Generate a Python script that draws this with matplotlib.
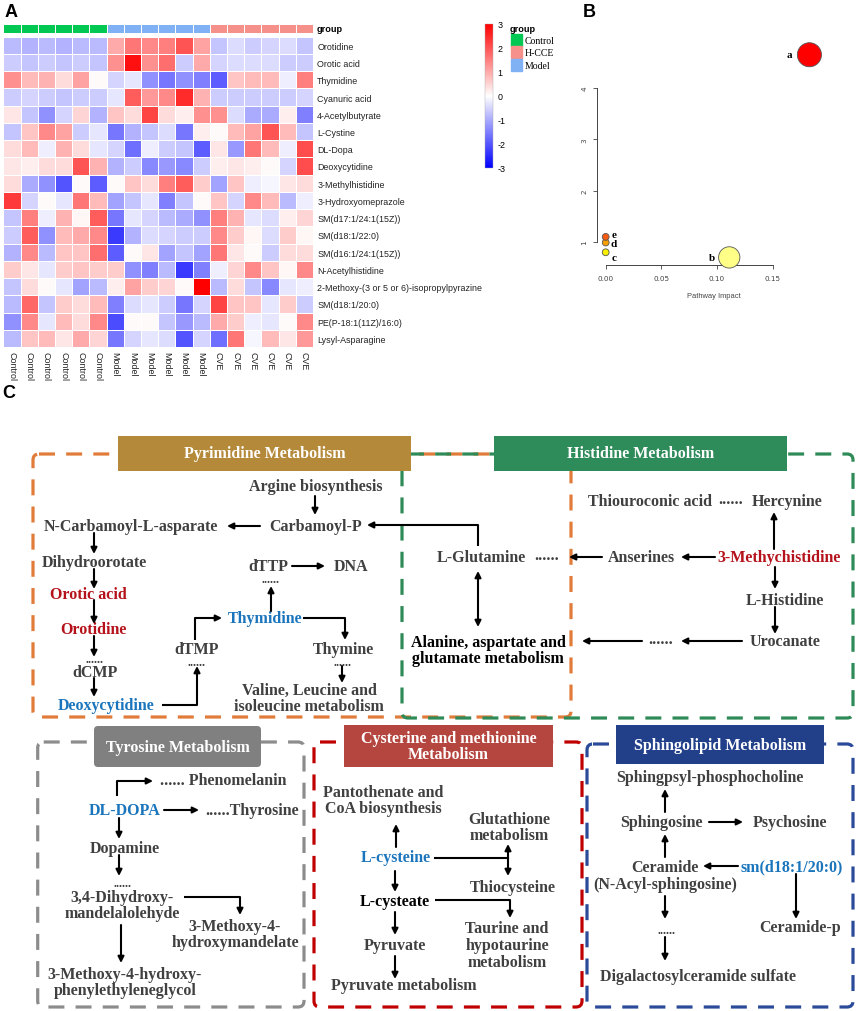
import numpy as np
import matplotlib
matplotlib.use("Agg")
import matplotlib.pyplot as plt
from matplotlib.colors import LinearSegmentedColormap, ListedColormap
from matplotlib.patches import FancyBboxPatch, Rectangle

plt.rcParams["axes.unicode_minus"] = False

# ---- panel A data: z-scores ----
metabolites = ["Orotidine", "Orotic acid", "Thymidine", "Cyanuric acid", "4-Acetylbutyrate",
               "L-Cystine", "DL-Dopa", "Deoxycytidine", "3-Methylhistidine",
               "3-Hydroxyomeprazole", "SM(d17:1/24:1(15Z))", "SM(d18:1/22:0)",
               "SM(d16:1/24:1(15Z))", "N-Acetylhistidine",
               "2-Methoxy-(3 or 5 or 6)-isopropylpyrazine", "SM(d18:1/20:0)",
               "PE(P-18:1(11Z)/16:0)", "Lysyl-Asparagine"]
samples = ["Control"] * 6 + ["Model"] * 6 + ["CVE"] * 6
sample_group = [0] * 6 + [1] * 6 + [2] * 6   # 0 Control, 1 Model, 2 H-CCE
heat_values = [
    [-0.8, -0.9, -0.8, -0.9, -0.8, -0.8, 1.0, 1.6, 1.4, 1.5, 2.0, 1.1, -0.7, -0.4, -0.6, -0.5, -0.4, -0.7],
    [-0.6, -0.7, -0.6, -0.7, -0.6, -0.7, 1.3, 2.8, 1.3, 1.7, -0.6, 1.0, -0.5, -0.4, -0.4, -0.4, -0.6, -0.6],
    [1.3, 0.8, 0.9, 0.4, 1.1, 0.05, -0.5, -0.3, -1.3, -1.6, -1.3, -1.5, -1.9, 0.7, 0.8, 0.8, -0.2, 1.5],
    [-0.6, -0.5, -0.6, -0.7, -0.6, -0.6, -0.3, 1.9, 1.2, 1.4, 2.5, 0.9, -0.6, -0.6, -0.6, -0.6, -0.6, -0.5],
    [0.3, -0.7, -1.3, -0.5, 0.5, -0.9, 0.7, 0.4, 2.2, 0.4, 0.2, 1.3, 1.3, -0.4, -1.0, -1.0, 0.2, -1.5],
    [-0.7, 0.7, 1.4, 1.1, -0.6, -0.3, -1.6, -0.9, -0.7, -0.4, -1.6, 0.2, 0.05, 0.8, 1.1, 2.0, 0.8, -0.7],
    [0.4, 0.8, -0.2, 0.9, 0.4, -0.3, -0.5, -1.7, -0.2, -0.6, -0.7, -1.9, 0.3, -1.2, 1.6, 0.8, -0.2, 2.1],
    [0.3, 0.2, 0.4, 0.4, 2.0, 0.9, -0.9, -0.6, -1.4, -1.2, -1.4, -0.6, 0.2, 0.3, 0.2, 0.05, -0.5, 2.1],
    [0.4, -1.0, -1.3, -2.0, 0.05, -1.9, 0.05, 0.7, 0.4, 1.5, 1.9, 0.6, -1.1, 0.7, -0.2, -0.1, 0.3, 0.4],
    [2.3, -0.5, 0.05, -0.3, 1.6, 0.8, -1.1, -0.7, -0.3, -1.5, -0.7, 0.05, 0.7, -0.5, 1.4, 0.8, -0.8, -0.2],
    [-0.7, 1.5, -0.2, 0.9, 0.1, 1.9, -1.6, -0.3, -0.5, -0.8, -1.0, -1.3, 1.5, 0.9, -0.3, -0.4, 0.2, 0.5],
    [-0.6, 1.9, -1.3, 0.8, 1.0, 1.4, -2.3, -0.9, -0.4, -0.5, -0.6, -0.6, 1.4, 0.6, 0.1, -0.4, 0.6, 0.1],
    [-0.9, 1.4, -0.8, 0.7, 0.7, 1.7, -1.9, 0.05, 0.3, -1.1, -0.7, -1.1, 1.6, 0.3, 0.05, -0.6, 0.4, 0.4],
    [0.6, 0.3, -0.3, 0.6, 0.7, 0.6, 0.6, -1.3, -1.5, -0.8, -2.3, -1.5, -0.2, 0.5, 1.4, 0.7, 0.1, 1.4],
    [-0.7, 0.4, 0.05, -0.3, -1.1, -0.8, 0.2, 1.1, 0.6, 0.5, 0.05, 3.0, -0.8, 0.4, -0.7, -1.4, -0.3, -0.2],
    [-0.8, 1.8, -0.7, 0.6, 0.4, 0.8, -1.5, -0.4, -0.3, -0.6, -1.6, -0.5, 2.2, 0.7, 0.7, -0.3, 0.6, -0.6],
    [-1.3, 1.4, -0.3, 0.8, 0.4, 1.4, -2.1, 0.05, 0.05, -0.7, -1.2, -0.8, 1.0, 0.6, -0.2, -0.3, 0.05, 1.4],
    [-0.8, 0.7, 0.8, 0.3, 1.0, 0.5, -1.6, -0.5, -0.3, -0.4, -2.0, -0.5, -1.7, 1.6, -0.1, 0.8, 0.3, 1.2],
]
group_names = ["Control", "H-CCE", "Model"]

# ---- panel B data: pathway impact vs -log10(p) ----
path_tags = ["a", "b", "c", "d", "e"]
path_impact = [0.183, 0.111, 0.0, 0.0, 0.0]
path_logp = [4.65, 0.70, 0.80, 0.99, 1.10]
path_size = [300, 235, 24, 24, 24]
path_color = ["#ff0000", "#ffff88", "#f8f000", "#f8a000", "#f45a10"]

W, H = 858, 1012
fig = plt.figure(figsize=(W / 100, H / 100), dpi=100)
SANS = "Liberation Sans"
SERIF = "Liberation Serif"


def px_axes(x0, y0, x1, y1):
    return fig.add_axes([x0 / W, 1 - y1 / H, (x1 - x0) / W, (y1 - y0) / H])


# ---------------- A: heatmap ----------------
cmap = LinearSegmentedColormap.from_list("bwr3", ["#0000ff", "#ffffff", "#ff0000"])
ax = px_axes(3.3, 37.7, 313, 348)
mesh = ax.pcolormesh(np.array(heat_values), cmap=cmap, vmin=-3, vmax=3,
                     edgecolors="white", linewidth=0.6)
ax.set_xlim(0, 18)
ax.set_ylim(18, 0)
ax.yaxis.tick_right()
ax.set_yticks(np.arange(18) + 0.5)
ax.set_yticklabels(metabolites, fontsize=6.4, family=SANS, color="#222222")
ax.set_xticks(np.arange(18) + 0.5)
ax.set_xticklabels(samples, fontsize=6.4, family=SANS, color="#222222", rotation=270)
ax.tick_params(length=0, pad=3)
for s in ax.spines.values():
    s.set_visible(False)

grp_colors = ["#00c853", "#80b1f5", "#f6908a"]
axg = px_axes(3.3, 25, 313, 34)
axg.pcolormesh(np.array([sample_group]), cmap=ListedColormap(grp_colors), vmin=-0.5, vmax=2.5,
               edgecolors="white", linewidth=0.6)
axg.set_xlim(0, 18)
axg.set_xticks([])
axg.set_yticks([])
for s in axg.spines.values():
    s.set_visible(False)
axg.text(18.2, 0.5, "group", fontsize=6.6, fontweight="bold", family=SANS, va="center")

cax = px_axes(485, 25, 493, 169)
cb = fig.colorbar(mesh, cax=cax, ticks=range(-3, 4))
cb.ax.tick_params(length=0, labelsize=6.4, pad=3)
cb.outline.set_linewidth(0.3)
cb.outline.set_edgecolor("#aaaaaa")
for t in cb.ax.get_yticklabels():
    t.set_family(SANS)

# ---------------- B: pathway bubbles ----------------
axb = px_axes(597, 40, 830, 266)
axb.scatter(path_impact, path_logp, s=path_size, c=path_color, edgecolors="#555555",
            linewidths=0.6, zorder=3, clip_on=False)
offsets = {"a": (-14.5, 0), "b": (-12.5, 0), "c": (6, -4), "d": (6, -1), "e": (6, 2)}
for tag, xv, yv in zip(path_tags, path_impact, path_logp):
    axb.annotate(tag, (xv, yv), xytext=offsets[tag], textcoords="offset points",
                 ha="center", va="center", fontsize=8, fontweight="bold", family=SERIF)
axb.set_xlim(-0.0078, 0.2015)
axb.set_ylim(0.552, 4.957)
axb.spines["top"].set_visible(False)
axb.spines["right"].set_visible(False)
axb.spines["left"].set_bounds(1, 4)
axb.spines["bottom"].set_bounds(0, 0.15)
for s in ("left", "bottom"):
    axb.spines[s].set_linewidth(0.7)
    axb.spines[s].set_color("#444444")
axb.set_xticks([0, 0.05, 0.10, 0.15])
axb.set_xticklabels(["0.00", "0.05", "0.10", "0.15"])
axb.set_yticks([1, 2, 3, 4])
axb.tick_params(labelsize=5.2, length=3, width=0.6, color="#444444", labelcolor="#444444", pad=4)
for t in axb.get_yticklabels():
    t.set_rotation(90)
    t.set_va("center")
axb.set_xlabel("Pathway Impact", fontsize=5.4, color="#444444", family=SANS, labelpad=8)
axb.patch.set_alpha(0)

# ---------------- overlay in pixel coordinates ----------------
ov = fig.add_axes([0, 0, 1, 1])
ov.set_xlim(0, W)
ov.set_ylim(H, 0)
ov.axis("off")
ov.patch.set_alpha(0)

for lab, x, y in [("A", 11, 12), ("B", 589, 12), ("C", 9, 393)]:
    ov.text(x, y, lab, fontsize=13, fontweight="bold", family=SANS, ha="center", va="center")

# legend of panel A
ov.text(510, 29, "group", fontsize=6.6, fontweight="bold", family=SANS, va="center")
for i, (name, col) in enumerate(zip(group_names, ["#00c853", "#f6908a", "#80b1f5"])):
    ov.add_patch(Rectangle((511, 35 + i * 12.3), 11, 12, color=col))
    ov.text(525, 41 + i * 12.8, name, fontsize=7, family=SERIF, va="center")

# ---------------- C: pathway diagram ----------------
GRAY = "#404040"
RED = "#b5121b"
BLUE = "#1a75bc"
FS = 11.5


def dashed_box(x0, y0, x1, y1, col):
    ov.add_patch(FancyBboxPatch((x0, y0), x1 - x0, y1 - y0,
                                boxstyle="round,pad=0,rounding_size=6", fill=False,
                                ec=col, lw=2.3, ls=(0, (5, 3.5))))


def title_box(x0, y0, x1, y1, col, txt, rounded=False):
    style = "round,pad=0,rounding_size=4" if rounded else "square,pad=0"
    ov.add_patch(FancyBboxPatch((x0, y0), x1 - x0, y1 - y0, boxstyle=style,
                                fc=col, ec="none", zorder=4))
    ov.text((x0 + x1) / 2, (y0 + y1) / 2, txt, color="white", fontsize=FS, fontweight="bold",
            family=SERIF, ha="center", va="center", linespacing=1.05, zorder=5)


def node(x, y, txt, col=GRAY):
    ov.text(x, y, txt, color=col, fontsize=FS, fontweight="bold", family=SERIF,
            ha="center", va="center", linespacing=1.05, zorder=3)


def dots(x, y, fs=FS):
    ov.text(x, y, "......", color=GRAY, fontsize=fs, fontweight="bold", family=SERIF,
            ha="center", va="baseline")


def arrow(*pts, both=False):
    pts = list(pts)
    if len(pts) > 2:
        xs, ys = zip(*pts[:-1])
        ov.plot(xs, ys, color="black", lw=1.5, solid_capstyle="butt")
    style = "<|-|>" if both else "-|>"
    ov.annotate("", xy=pts[-1], xytext=pts[-2],
                arrowprops=dict(arrowstyle=style, color="black", lw=1.5,
                                mutation_scale=9, shrinkA=0, shrinkB=0))


dashed_box(33, 455, 571, 718, "#e07b39")
dashed_box(402, 455, 853, 719, "#2e8b57")
dashed_box(37.7, 743, 304, 1008, "#8c8c8c")
dashed_box(314, 743, 582, 1008, "#c00000")
dashed_box(587, 745, 853, 1008, "#2a4a9a")

title_box(118, 437, 411, 472, "#b5893a", "Pyrimidine Metabolism")
title_box(494, 437, 787, 472, "#2e8b5a", "Histidine Metabolism")
title_box(94, 727, 261, 768, "#808080", "Tyrosine Metabolism", rounded=True)
title_box(344, 726, 553, 768, "#b5463f", "Cysterine and methionine\nMetabolism")
title_box(616, 726, 824, 765, "#22408a", "Sphingolipid Metabolism")

# pyrimidine
node(316, 487, "Argine biosynthesis")
node(316, 527, "Carbamoyl-P")
node(131, 527, "N-Carbamoyl-L-asparate")
node(94.5, 563, "Dihydroorotate")
node(88, 595, "Orotic acid", RED)
node(93, 630, "Orotidine", RED)
dots(95, 663, 9)
node(95.5, 673, "dCMP")
node(106, 706, "Deoxycytidine", BLUE)
node(197, 650, "dTMP")
dots(197, 666, 9)
node(265, 619, "Thymidine", BLUE)
node(268, 567, "dTTP")
dots(270, 583, 9)
node(351, 567, "DNA")
node(343, 650, "Thymine")
dots(343, 666, 9)
node(309, 699, "Valine, Leucine and\nisoleucine metabolism")

arrow((315, 497), (315, 516))
arrow((260, 527), (227, 527))
arrow((478, 547), (478, 526), (367, 526))
arrow((94, 534), (94, 555))
arrow((94, 570), (94, 590))
arrow((94, 601), (94, 625))
arrow((94, 637), (94, 658))
arrow((94, 679), (94, 698))
arrow((162, 706), (197, 706), (197, 667))
arrow((195, 641), (195, 619), (222, 619))
arrow((271, 612), (271, 587))
arrow((292, 567), (325, 567))
arrow((303, 619), (345, 619), (345, 641))
arrow((342, 667), (342, 684))

# histidine
node(650, 502, "Thiouroconic acid")
ov.text(731, 504, "......", color=GRAY, fontsize=FS, fontweight="bold", family=SERIF,
        ha="center", va="baseline")
node(787, 502, "Hercynine")
node(481, 558, "L-Glutamine")
ov.text(547, 560, "......", color=GRAY, fontsize=FS, fontweight="bold", family=SERIF,
        ha="center", va="baseline")
node(641, 558, "Anserines")
node(779, 558, "3-Methychistidine", RED)
node(785, 601, "L-Histidine")
node(785, 642, "Urocanate")
ov.text(661, 644, "......", color=GRAY, fontsize=FS, fontweight="bold", family=SERIF,
        ha="center", va="baseline")
node(488, 651, "Alanine, aspartate and\nglutamate metabolism", "black")

arrow((774, 550), (774, 513))
arrow((715, 558), (681, 558))
arrow((602, 558), (569, 558))
arrow((775, 568), (775, 590))
arrow((775, 608), (775, 635))
arrow((742, 642), (681, 642))
arrow((642, 642), (582, 642))
arrow((478, 572), (478, 628), both=True)

# tyrosine
node(223.5, 781, "...... Phenomelanin")
node(125, 811, "DL-DOPA", BLUE)
node(252, 811, "......Thyrosine")
node(125, 849, "Dopamine")
dots(122, 887, 9)
node(122, 906, "3,4-Dihydroxy-\nmandelalolehyde")
node(235, 935, "3-Methoxy-4-\nhydroxymandelate")
node(125, 983, "3-Methoxy-4-hydroxy-\nphenylethyleneglycol")

arrow((117, 797), (117, 782), (153, 782))
arrow((164, 811), (199, 811))
arrow((119, 819), (119, 840))
arrow((119, 856), (119, 877))
arrow((184, 898), (240, 898), (240, 916))
arrow((121, 926), (121, 964))

# cysteine
node(383, 801, "Pantothenate and\nCoA biosynthesis")
node(396, 858, "L-cysteine", BLUE)
node(395, 902, "L-cysteate", "black")
node(395, 946, "Pyruvate")
node(404, 986, "Pyruvate metabolism")
node(509, 828, "Glutathione\nmetabolism")
node(513, 888, "Thiocysteine")
node(507, 946, "Taurine and\nhypotaurine\nmetabolism")

arrow((396, 848), (396, 825))
arrow((395, 872), (395, 893))
arrow((395, 913), (395, 936))
arrow((395, 957), (395, 980))
ov.plot([435, 508], [859, 859], color="black", lw=1.5)
arrow((508, 845), (508, 877), both=True)
arrow((435, 901), (510, 901), (510, 919))

# sphingolipid
node(710, 778, "Sphingpsyl-phosphocholine")
node(661, 823, "Sphingosine")
node(790, 823, "Psychosine")
node(665, 876.5, "Ceramide\n(N-Acyl-sphingosine)")
node(792, 867, "sm(d18:1/20:0)", BLUE)
dots(666, 934, 9)
node(800, 928, "Ceramide-p")
node(698.5, 977, "Digalactosylceramide sulfate")

arrow((665, 813), (665, 790))
arrow((665, 858), (665, 835))
arrow((709, 823), (743, 823))
arrow((738, 867), (703, 867))
arrow((796, 875), (796, 920))
arrow((665, 897), (665, 920))
arrow((665, 938), (665, 962))

fig.savefig("out.png", dpi=100)
